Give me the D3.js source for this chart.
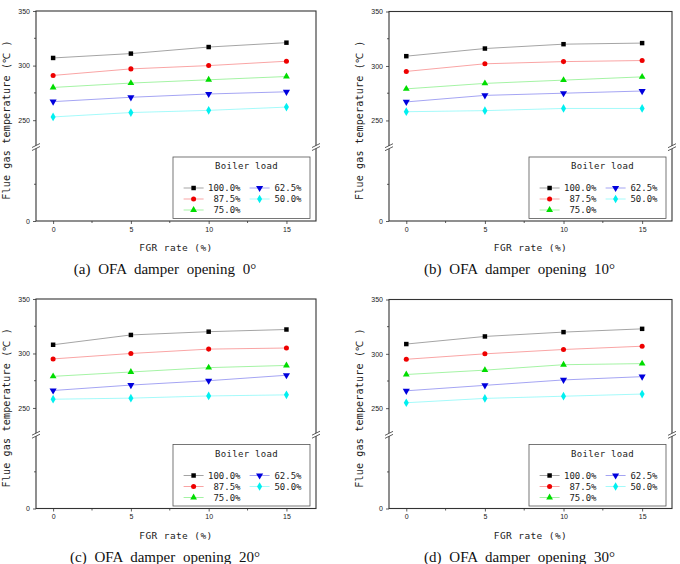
<!DOCTYPE html>
<html lang="en">
<head>
<meta charset="UTF-8">
<title>Flue gas temperature vs FGR rate</title>
<style>
  body { margin: 0; background: #fff; }
  .tick-label { font: 7px "Liberation Sans", Arial, sans-serif; fill: #222; }
  .mono { font-family: "DejaVu Sans Mono", "Liberation Mono", monospace; fill: #222; }
  .caption { font: 15px "Liberation Serif", "Times New Roman", serif; word-spacing: 4px; fill: #111; }
</style>
</head>
<body>
<div id="chart"></div>
<script src="https://d3js.org/d3.v7.min.js"></script>
<script>
// data
const fgrRates = [0, 5, 10, 15];
const boilerLoads = ["100.0%", "87.5%", "75.0%", "62.5%", "50.0%"];
const captions = [
    "(a) OFA damper opening 0°",
    "(b) OFA damper opening 10°",
    "(c) OFA damper opening 20°",
    "(d) OFA damper opening 30°"
];
// rows follow boilerLoads, columns follow fgrRates
const tempsOpening0 = [
    [307, 311, 317, 321],
    [291, 297, 300, 304],
    [280, 284, 287, 290],
    [267, 271, 274, 276],
    [253, 257, 259, 262]
];
const tempsOpening10 = [
    [309, 316, 320, 321],
    [295, 302, 304, 305],
    [279, 284, 287, 290],
    [267, 273, 275, 277],
    [258, 259, 261, 261]
];
const tempsOpening20 = [
    [308, 317, 320, 322],
    [295, 300, 304, 305],
    [279, 283, 287, 289],
    [266, 271, 275, 280],
    [258, 259, 261, 262]
];
const tempsOpening30 = [
    [309, 316, 320, 323],
    [295, 300, 304, 307],
    [281, 285, 290, 291],
    [266, 271, 276, 279],
    [255, 259, 261, 263]
];
const xTicks = [0, 5, 10, 15];
const xMinorTicks = [2.5, 7.5, 12.5];
const yUpperTicks = [250, 300, 350];
const yUpperMinor = [275, 325];
const yLowerTicks = [0];
const yLowerMinor = [50];

const allTemps = [tempsOpening0, tempsOpening10, tempsOpening20, tempsOpening30];

const colors = ["#000000", "#ee0000", "#00dd00", "#0000dd", "#00f0f0"];
const symbols = [d3.symbolSquare, d3.symbolCircle, d3.symbolTriangle, "down", d3.symbolDiamond];

const panels = [
    {x: 36, y: 11, w: 280, h: 210},
    {x: 389, y: 11.5, w: 283, h: 209.5},
    {x: 36, y: 299, w: 280, h: 209.5},
    {x: 389, y: 299.5, w: 283, h: 209}
];

const svg = d3.select("#chart").append("svg")
    .attr("width", 680)
    .attr("height", 564)
    .style("display", "block");

svg.append("rect").attr("width", 680).attr("height", 564).attr("fill", "#fff");

function markerPath(sym) {
    if (sym === "down") return d3.symbol(d3.symbolTriangle, 22)();
    return d3.symbol(sym, sym === d3.symbolDiamond ? 22 : 20)();
}

function drawMarker(g, i, cx, cy) {
    g.append("path")
        .attr("d", markerPath(symbols[i]))
        .attr("transform", "translate(" + cx + "," + cy + ")" + (symbols[i] === "down" ? " rotate(180)" : ""))
        .attr("fill", colors[i]);
}

panels.forEach((p, k) => {
    const g = svg.append("g").attr("transform", "translate(" + p.x + "," + p.y + ")");
    const breakY = p.h * 0.65;

    const x = d3.scaleLinear().domain([-1.1, 16.9]).range([0, p.w]);
    const yUp = d3.scaleLinear().domain([225, 350]).range([breakY, 0]);
    const yLow = d3.scaleLinear().domain([0, 100]).range([p.h, breakY]);
    const y = v => v >= 200 ? yUp(v) : yLow(v);

    // axes, ticks outward
    const xAxis = g.append("g").attr("transform", "translate(0," + p.h + ")")
        .call(d3.axisBottom(x).tickValues(xTicks).tickSize(3).tickPadding(3).tickFormat(d3.format("d")));
    xAxis.append("g").selectAll("line").data(xMinorTicks).enter().append("line")
        .attr("x1", d => x(d)).attr("x2", d => x(d)).attr("y1", 0).attr("y2", 2);

    const yAxisUp = g.append("g")
        .call(d3.axisLeft(yUp).tickValues(yUpperTicks).tickSize(3).tickPadding(3));
    yAxisUp.append("g").selectAll("line").data(yUpperMinor).enter().append("line")
        .attr("x1", 0).attr("x2", -2).attr("y1", d => yUp(d)).attr("y2", d => yUp(d));
    const yAxisLow = g.append("g")
        .call(d3.axisLeft(yLow).tickValues(yLowerTicks).tickSize(3).tickPadding(3));
    yAxisLow.append("g").selectAll("line").data(yLowerMinor).enter().append("line")
        .attr("x1", 0).attr("x2", -2).attr("y1", d => yLow(d)).attr("y2", d => yLow(d));

    g.selectAll(".domain").remove();
    g.selectAll(".tick line, g > line").attr("stroke", "#333").attr("stroke-width", 0.8);
    g.selectAll(".tick text").attr("class", "tick-label").attr("font-size", null).attr("font-family", null);

    // frame
    g.append("rect")
        .attr("width", p.w).attr("height", p.h)
        .attr("fill", "none").attr("stroke", "#333").attr("stroke-width", 1.1);

    // axis breaks on both sides
    [0, p.w].forEach(ax => {
        g.append("polygon")
            .attr("points", [[ax - 4, breakY + 3], [ax + 4, breakY - 1], [ax + 4, breakY - 4], [ax - 4, breakY]].map(q => q.join(",")).join(" "))
            .attr("fill", "#fff");
        [0, -3].forEach(off => {
            g.append("line")
                .attr("x1", ax - 4).attr("y1", breakY + 3 + off)
                .attr("x2", ax + 4).attr("y2", breakY - 1 + off)
                .attr("stroke", "#333").attr("stroke-width", 0.8);
        });
    });

    // series
    const temps = allTemps[k];
    const line = d3.line().x((d, j) => x(fgrRates[j])).y(d => y(d));
    temps.forEach((row, i) => {
        g.append("path")
            .attr("d", line(row))
            .attr("fill", "none")
            .attr("stroke", colors[i])
            .attr("stroke-opacity", 0.45)
            .attr("stroke-width", 0.8);
        row.forEach((v, j) => drawMarker(g, i, x(fgrRates[j]), y(v)));
    });

    // legend
    const lw = 137, lh = 61.5;
    const lx = p.w - 6 - lw, ly = p.h - 2.5 - lh;
    const lg = g.append("g").attr("transform", "translate(" + lx + "," + ly + ")");
    lg.append("rect").attr("width", lw).attr("height", lh)
        .attr("fill", "#fff").attr("stroke", "#555").attr("stroke-width", 0.8);
    lg.append("text").attr("class", "mono")
        .attr("x", lw / 2 + 5).attr("y", 12)
        .attr("text-anchor", "middle").attr("font-size", 9)
        .attr("letter-spacing", 0.3)
        .text("Boiler load");
    boilerLoads.forEach((name, i) => {
        const col = i < 3 ? 0 : 1;
        const row = i < 3 ? i : i - 3;
        const x0 = col === 0 ? 10.6 : 76.6;
        const ry = 31 + row * 11;
        lg.append("line")
            .attr("x1", x0).attr("x2", x0 + 20)
            .attr("y1", ry).attr("y2", ry)
            .attr("stroke", colors[i]).attr("stroke-opacity", 0.45).attr("stroke-width", 0.8);
        drawMarker(lg, i, x0 + 10, ry);
        lg.append("text").attr("class", "mono")
            .attr("x", col === 0 ? 67.5 : 128.5).attr("y", ry + 3)
            .attr("text-anchor", "end").attr("font-size", 9)
            .text(name);
    });

    // axis titles
    g.append("text").attr("class", "mono")
        .attr("x", p.w / 2).attr("y", p.h + 30)
        .attr("text-anchor", "middle").attr("font-size", 9.5)
        .attr("letter-spacing", 0.4)
        .text("FGR rate (%)");
    g.append("text").attr("class", "mono")
        .attr("transform", "translate(-26," + (p.h / 2 + 4) + ") rotate(-90)")
        .attr("text-anchor", "middle").attr("font-size", 10)
        .attr("letter-spacing", 0.2)
        .text("Flue gas temperature (℃ )");

    // caption
    g.append("text").attr("class", "caption")
        .attr("x", p.w / 2 - 11).attr("y", p.h + 53)
        .attr("text-anchor", "middle")
        .text(captions[k]);
});
</script>
</body>
</html>
